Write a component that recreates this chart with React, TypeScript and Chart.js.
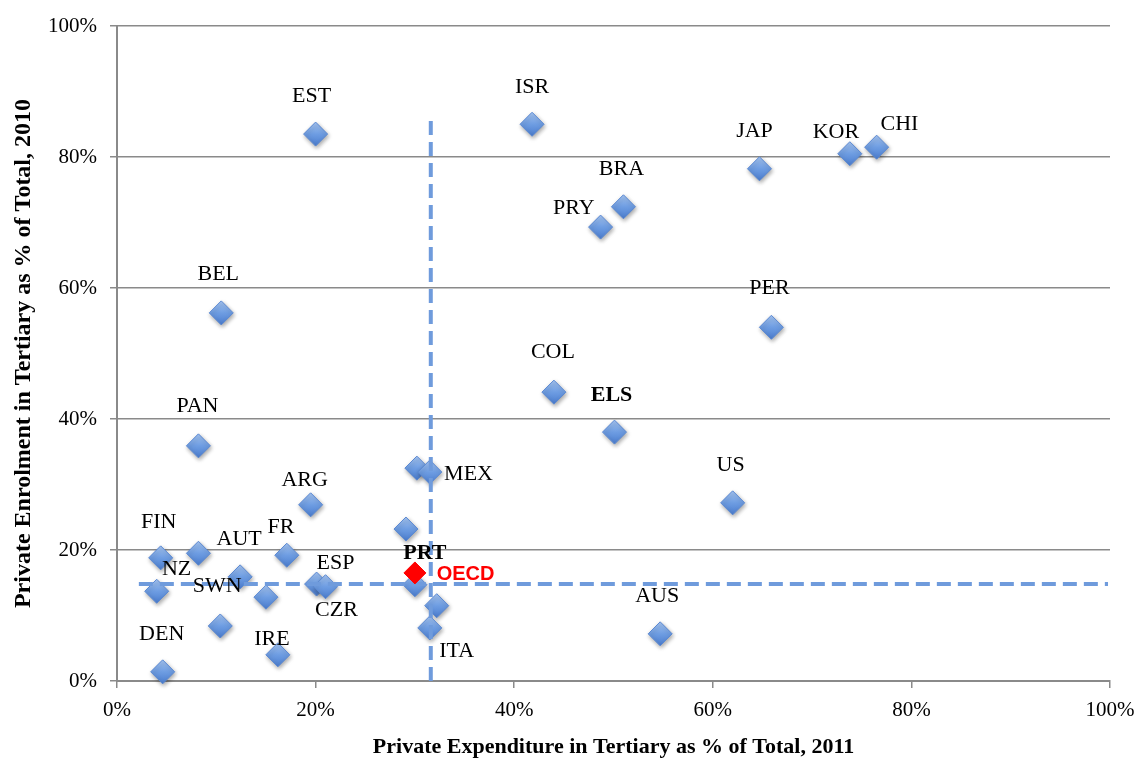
import React, { useEffect, useRef } from 'react';
import { Chart, registerables } from 'chart.js';

Chart.register(...registerables);

// Private expenditure in tertiary (% of total, 2011) — x values
const expenditure = [
  20.0, 41.8, 64.7, 73.8, 76.5, 51.0, 48.7, 10.5, 65.9, 44.0, 50.1, 8.2, 30.2, 31.5, 62.0, 19.5,
  29.1, 4.4, 8.2, 17.1, 4.0, 12.4, 15.0, 20.1, 21.0, 30.0, 32.2, 31.5, 4.6, 10.4, 16.2, 54.7,
];
// Private enrolment in tertiary (% of total, 2010) — y values
const enrolment = [
  83.5, 85.0, 78.2, 80.5, 81.5, 72.4, 69.3, 56.2, 54.0, 44.1, 38.0, 35.9, 32.5, 31.9, 27.2, 26.9,
  23.2, 18.8, 19.5, 19.2, 13.7, 15.9, 12.8, 14.8, 14.4, 14.7, 11.5, 8.1, 1.4, 8.4, 4.0, 7.2,
];

// OECD average point
const oecdX = [30.0];
const oecdY = [16.5];

// Mean lines (dashed)
const verticalLineX = [31.6, 31.6];
const verticalLineY = [0, 86];
const horizontalLineX = [2.2, 99.8];
const horizontalLineY = [14.8, 14.8];

// Country labels anchored in data units
const labelNames = [
  'EST', 'ISR', 'JAP', 'KOR', 'CHI', 'BRA', 'PRY', 'BEL', 'PER', 'COL', 'ELS', 'PAN', 'MEX', 'US',
  'ARG', 'FIN', 'FR', 'AUT', 'NZ', 'SWN', 'ESP', 'CZR', 'PRT', 'OECD', 'DEN', 'IRE', 'ITA', 'AUS',
];
const labelX = [
  19.6, 41.8, 64.2, 72.4, 78.8, 50.8, 46.0, 10.2, 65.7, 43.9, 49.8, 8.1, 35.4, 61.8,
  18.9, 4.2, 16.5, 12.3, 6.0, 10.1, 22.0, 22.1, 31.0, 35.1, 4.5, 15.6, 34.2, 54.4,
];
const labelY = [
  89.6, 91.0, 84.3, 84.1, 85.3, 78.5, 72.4, 62.4, 60.2, 50.5, 44.0, 42.3, 31.8, 33.3,
  31.0, 24.6, 23.7, 22.0, 17.3, 14.7, 18.2, 11.1, 19.8, 16.5, 7.5, 6.7, 4.9, 13.3,
];

const axisMin = 0;
const axisMax = 100;
const tickStep = 20;

const xTitle = 'Private Expenditure in Tertiary as % of Total, 2011';
const yTitle = 'Private Enrolment in Tertiary as % of Total, 2010';

const SERIF = '"Liberation Serif", "Times New Roman", serif';
const SANS = '"Liberation Sans", Arial, sans-serif';

const labelPlugin = {
  id: 'countryLabels',
  afterDatasetsDraw(chart: any) {
    const { ctx } = chart;
    const xs = chart.scales.x;
    const ys = chart.scales.y;
    ctx.save();
    ctx.textAlign = 'center';
    ctx.textBaseline = 'alphabetic';
    labelNames.forEach((name, i) => {
      let size = 22;
      let font = `${size}px ${SERIF}`;
      let color = '#000000';
      if (name === 'ELS' || name === 'PRT') {
        font = `bold ${size}px ${SERIF}`;
      } else if (name === 'OECD') {
        size = 20;
        font = `bold ${size}px ${SANS}`;
        color = '#ff0000';
      }
      ctx.font = font;
      ctx.fillStyle = color;
      const px = xs.getPixelForValue(labelX[i]);
      const py = ys.getPixelForValue(labelY[i]);
      ctx.fillText(name, px, py + size * 0.35);
    });
    ctx.restore();
  },
};

const shadowPlugin = {
  id: 'diamondShadow',
  beforeDatasetDraw(chart: any, args: any) {
    if (args.index === 0) {
      const ctx = chart.ctx;
      ctx.save();
      ctx.shadowColor = 'rgba(0,0,0,0.35)';
      ctx.shadowBlur = 4;
      ctx.shadowOffsetX = 1;
      ctx.shadowOffsetY = 2;
    }
  },
  afterDatasetDraw(chart: any, args: any) {
    if (args.index === 0) {
      chart.ctx.restore();
    }
  },
};

function diamondFill(c: any) {
  const chart = c.chart;
  const xs = chart.scales && chart.scales.x;
  const ys = chart.scales && chart.scales.y;
  if (c.type !== 'data' || !xs || !ys || !c.parsed) return '#6a9ae0';
  const px = xs.getPixelForValue(c.parsed.x);
  const py = ys.getPixelForValue(c.parsed.y);
  if (!isFinite(px) || !isFinite(py)) return '#6a9ae0';
  const g = chart.ctx.createLinearGradient(px, py - 12, px, py + 12);
  g.addColorStop(0, '#a6c6f4');
  g.addColorStop(0.5, '#6e9de2');
  g.addColorStop(1, '#4b7dcf');
  return g;
}

export default function App() {
  const canvasRef = useRef<HTMLCanvasElement | null>(null);

  useEffect(() => {
    if (!canvasRef.current) return;
    const points = expenditure.map((v, i) => ({ x: v, y: enrolment[i] }));
    const oecd = oecdX.map((v, i) => ({ x: v, y: oecdY[i] }));
    const vLine = verticalLineX.map((v, i) => ({ x: v, y: verticalLineY[i] }));
    const hLine = horizontalLineX.map((v, i) => ({ x: v, y: horizontalLineY[i] }));
    const dashColor = '#6f9bdc';

    const chart = new Chart(canvasRef.current, {
      type: 'scatter',
      data: {
        datasets: [
          {
            label: 'Countries',
            data: points,
            pointStyle: 'rectRot',
            pointRadius: 12,
            backgroundColor: diamondFill as any,
            borderColor: '#5a88d2',
            borderWidth: 1,
            order: 3,
            clip: false,
          } as any,
          {
            label: 'vline',
            type: 'line',
            data: vLine,
            borderColor: dashColor,
            borderWidth: 4,
            borderDash: [14, 7],
            pointRadius: 0,
            showLine: true,
            fill: false,
            order: 2,
            clip: false,
          } as any,
          {
            label: 'hline',
            type: 'line',
            data: hLine,
            borderColor: dashColor,
            borderWidth: 4,
            borderDash: [14, 7],
            pointRadius: 0,
            showLine: true,
            fill: false,
            order: 2,
            clip: false,
          } as any,
          {
            label: 'OECD',
            data: oecd,
            pointStyle: 'rectRot',
            pointRadius: 11,
            backgroundColor: '#ff0000',
            borderColor: '#ff0000',
            borderWidth: 1,
            order: 1,
            clip: false,
          } as any,
        ],
      },
      options: {
        responsive: false,
        animation: false,
        events: [],
        layout: { padding: { top: 26, right: 28, left: 0, bottom: 0 } },
        plugins: {
          legend: { display: false },
          tooltip: { enabled: false },
        },
        scales: {
          x: {
            type: 'linear',
            min: axisMin,
            max: axisMax,
            afterFit: (s: any) => {
              s.height = 80;
              s.paddingLeft = 0;
              s.paddingRight = 0;
            },
            ticks: {
              stepSize: tickStep,
              padding: 10,
              color: '#000000',
              font: { family: SERIF, size: 21 },
              callback: (v: any) => `${v}%`,
            },
            grid: {
              drawOnChartArea: false,
              drawTicks: true,
              tickLength: 7,
              color: '#8a8a8a',
              lineWidth: 1.5,
            },
            border: { display: true, color: '#8a8a8a', width: 2 },
            title: {
              display: true,
              text: xTitle,
              color: '#000000',
              font: { family: SERIF, size: 22, weight: 'bold' },
              padding: { top: 0, bottom: 0 },
            },
          },
          y: {
            type: 'linear',
            min: axisMin,
            max: axisMax,
            afterFit: (s: any) => {
              s.width = 117;
              s.paddingTop = 0;
              s.paddingBottom = 0;
            },
            ticks: {
              stepSize: tickStep,
              padding: 13,
              color: '#000000',
              font: { family: SERIF, size: 21 },
              callback: (v: any) => `${v}%`,
            },
            grid: {
              drawOnChartArea: true,
              drawTicks: true,
              tickLength: 7,
              color: '#8a8a8a',
              lineWidth: 1.5,
            },
            border: { display: true, color: '#8a8a8a', width: 2 },
            title: {
              display: true,
              text: yTitle,
              color: '#000000',
              font: { family: SERIF, size: 24, weight: 'bold' },
              padding: { top: 9, bottom: 0 },
            },
          },
        },
      },
      plugins: [shadowPlugin, labelPlugin],
    });

    return () => {
      chart.destroy();
    };
  }, []);

  return (
    <div style={{ position: 'fixed', left: 0, top: 0, width: 1138, height: 761, background: '#ffffff' }}>
      <canvas ref={canvasRef} width={1138} height={761} style={{ display: 'block' }} />
    </div>
  );
}
